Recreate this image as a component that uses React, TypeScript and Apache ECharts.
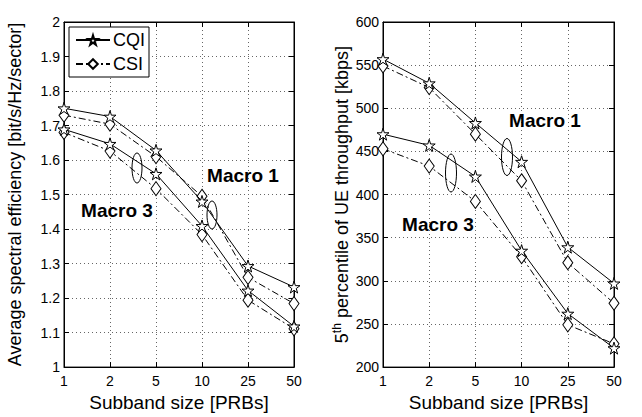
import React, { useEffect, useRef } from "react";
import * as echarts from "echarts";

const categories = ["1", "2", "5", "10", "25", "50"];

// Left: average spectral efficiency
const seCqiMacro1 = [1.75, 1.726, 1.628, 1.48, 1.293, 1.232];
const seCsiMacro1 = [1.73, 1.704, 1.61, 1.495, 1.26, 1.184];
const seCqiMacro3 = [1.689, 1.647, 1.56, 1.409, 1.222, 1.118];
const seCsiMacro3 = [1.68, 1.626, 1.517, 1.384, 1.194, 1.111];

// Right: 5th percentile UE throughput
const tpCqiMacro1 = [557, 529, 483, 438, 339, 297];
const tpCsiMacro1 = [549, 524, 470, 416, 321, 274];
const tpCqiMacro3 = [470, 457, 421, 335, 262, 222];
const tpCsiMacro3 = [453, 433, 392, 328, 249, 227];

const FONT = "Liberation Sans, Arial, Helvetica, sans-serif";
const STAR = "path://M50,0 L61,35 L98,35 L68,57 L79,91 L50,70 L21,91 L32,57 L2,35 L39,35 Z";
const DASHDOT = [7, 3, 2, 3];

function cqi(data: number[], xi: number, yi: number) {
  return {
    type: "line",
    name: "CQI",
    xAxisIndex: xi,
    yAxisIndex: yi,
    data,
    symbol: STAR,
    symbolSize: 12,
    lineStyle: { color: "#000", width: 1, type: "solid" },
    itemStyle: { color: "#fff", borderColor: "#000", borderWidth: 1 },
    z: 3,
  };
}
function csi(data: number[], xi: number, yi: number) {
  return {
    type: "line",
    name: "CSI",
    xAxisIndex: xi,
    yAxisIndex: yi,
    data,
    symbol: "diamond",
    symbolSize: [10, 14],
    lineStyle: { color: "#000", width: 1, type: DASHDOT },
    itemStyle: { color: "#fff", borderColor: "#000", borderWidth: 1 },
    z: 2,
  };
}

function xAxes(gi: number) {
  return [
    {
      type: "category",
      gridIndex: gi,
      data: categories,
      boundaryGap: false,
      position: "bottom",
      name: "Subband size [PRBs]",
      nameLocation: "middle",
      nameGap: 24,
      nameTextStyle: { fontFamily: FONT, fontSize: 19, color: "#000" },
      axisLine: { lineStyle: { color: "#000", width: 1 } },
      axisTick: { inside: true, length: 5, lineStyle: { color: "#000" } },
      axisLabel: { fontFamily: FONT, fontSize: 14, color: "#000", margin: 7 },
      splitLine: { show: true, lineStyle: { color: "#666", type: [1, 3], width: 1 } },
    },
    {
      type: "category",
      gridIndex: gi,
      data: categories,
      boundaryGap: false,
      position: "top",
      axisLine: { lineStyle: { color: "#000", width: 1 } },
      axisTick: { inside: true, length: 5, lineStyle: { color: "#000" } },
      axisLabel: { show: false },
      splitLine: { show: false },
    },
  ];
}

function yAxes(gi: number, min: number, max: number, interval: number, name: any, nameGap: number, rich?: any) {
  return [
    {
      type: "value",
      gridIndex: gi,
      min,
      max,
      interval,
      position: "left",
      name,
      nameLocation: "middle",
      nameGap,
      nameTextStyle: { fontFamily: FONT, fontSize: 18, color: "#000", rich },
      axisLine: { show: true, lineStyle: { color: "#000", width: 1 } },
      axisTick: { show: true, inside: true, length: 5, lineStyle: { color: "#000" } },
      axisLabel: { fontFamily: FONT, fontSize: 14, color: "#000", margin: 4 },
      splitLine: { show: true, lineStyle: { color: "#666", type: [1, 3], width: 1 } },
    },
    {
      type: "value",
      gridIndex: gi,
      min,
      max,
      interval,
      position: "right",
      axisLine: { show: true, lineStyle: { color: "#000", width: 1 } },
      axisTick: { show: true, inside: true, length: 5, lineStyle: { color: "#000" } },
      axisLabel: { show: false },
      splitLine: { show: false },
    },
  ];
}

function macroText(x: number, y: number, text: string) {
  return {
    type: "text",
    x,
    y,
    style: {
      text,
      fontFamily: FONT,
      fontSize: 19,
      fontWeight: "bold",
      fill: "#000",
      align: "center",
      verticalAlign: "middle",
    },
    z: 10,
  };
}
function ell(cx: number, cy: number, rx: number, ry: number) {
  return {
    type: "ellipse",
    shape: { cx, cy, rx, ry },
    style: { fill: "none", stroke: "#000", lineWidth: 1 },
    z: 10,
  };
}

export default function App() {
  const ref = useRef<HTMLDivElement>(null);
  useEffect(() => {
    if (!ref.current) return;
    const chart = echarts.init(ref.current, undefined, { renderer: "svg" });
    chart.setOption({
      animation: false,
      backgroundColor: "#fff",
      textStyle: { fontFamily: FONT },
      grid: [
        { left: 64, top: 22, width: 230, height: 351, show: true, borderColor: "#000", borderWidth: 1, backgroundColor: "transparent" },
        { left: 383, top: 22, width: 231, height: 351, show: true, borderColor: "#000", borderWidth: 1, backgroundColor: "transparent" },
      ],
      legend: {
        data: ["CQI", "CSI"],
        orient: "vertical",
        left: 69,
        top: 27,
        itemWidth: 34,
        itemHeight: 12,
        itemGap: 6,
        padding: [4, 4, 4, 6],
        backgroundColor: "#fff",
        borderColor: "#000",
        borderWidth: 1,
        borderRadius: 0,
        textStyle: { fontFamily: FONT, fontSize: 18, color: "#000", padding: [0, 0, 0, -2] },
      },
      xAxis: [...xAxes(0), ...xAxes(1)],
      yAxis: [
        ...yAxes(0, 1, 2, 0.1, "Average spectral efficiency [bit/s/Hz/sector]", 40),
        ...yAxes(1, 200, 600, 50, "{base|5}{sup|th}{base| percentile of UE throughput [kbps]}", 30, {
          sup: { fontFamily: FONT, fontSize: 12, color: "#000", verticalAlign: "bottom", padding: [0, 0, 10, 0] },
          base: { fontFamily: FONT, fontSize: 18, color: "#000" },
        }),
      ],
      series: [
        cqi(seCqiMacro1, 0, 0),
        csi(seCsiMacro1, 0, 0),
        cqi(seCqiMacro3, 0, 0),
        csi(seCsiMacro3, 0, 0),
        cqi(tpCqiMacro1, 2, 2),
        csi(tpCsiMacro1, 2, 2),
        cqi(tpCqiMacro3, 2, 2),
        csi(tpCsiMacro3, 2, 2),
      ],
      graphic: [
        macroText(243, 175, "Macro 1"),
        macroText(117, 210, "Macro 3"),
        macroText(545, 120, "Macro 1"),
        macroText(438, 224, "Macro 3"),
        ell(137, 168, 5, 15),
        ell(212, 215, 5, 14),
        ell(451, 173, 5.5, 19),
        ell(507, 157, 5.5, 18.5),
      ],
    });
    return () => chart.dispose();
  }, []);
  return (
    <div
      ref={ref}
      style={{ position: "absolute", left: 0, top: 0, width: 642, height: 417 }}
    />
  );
}
